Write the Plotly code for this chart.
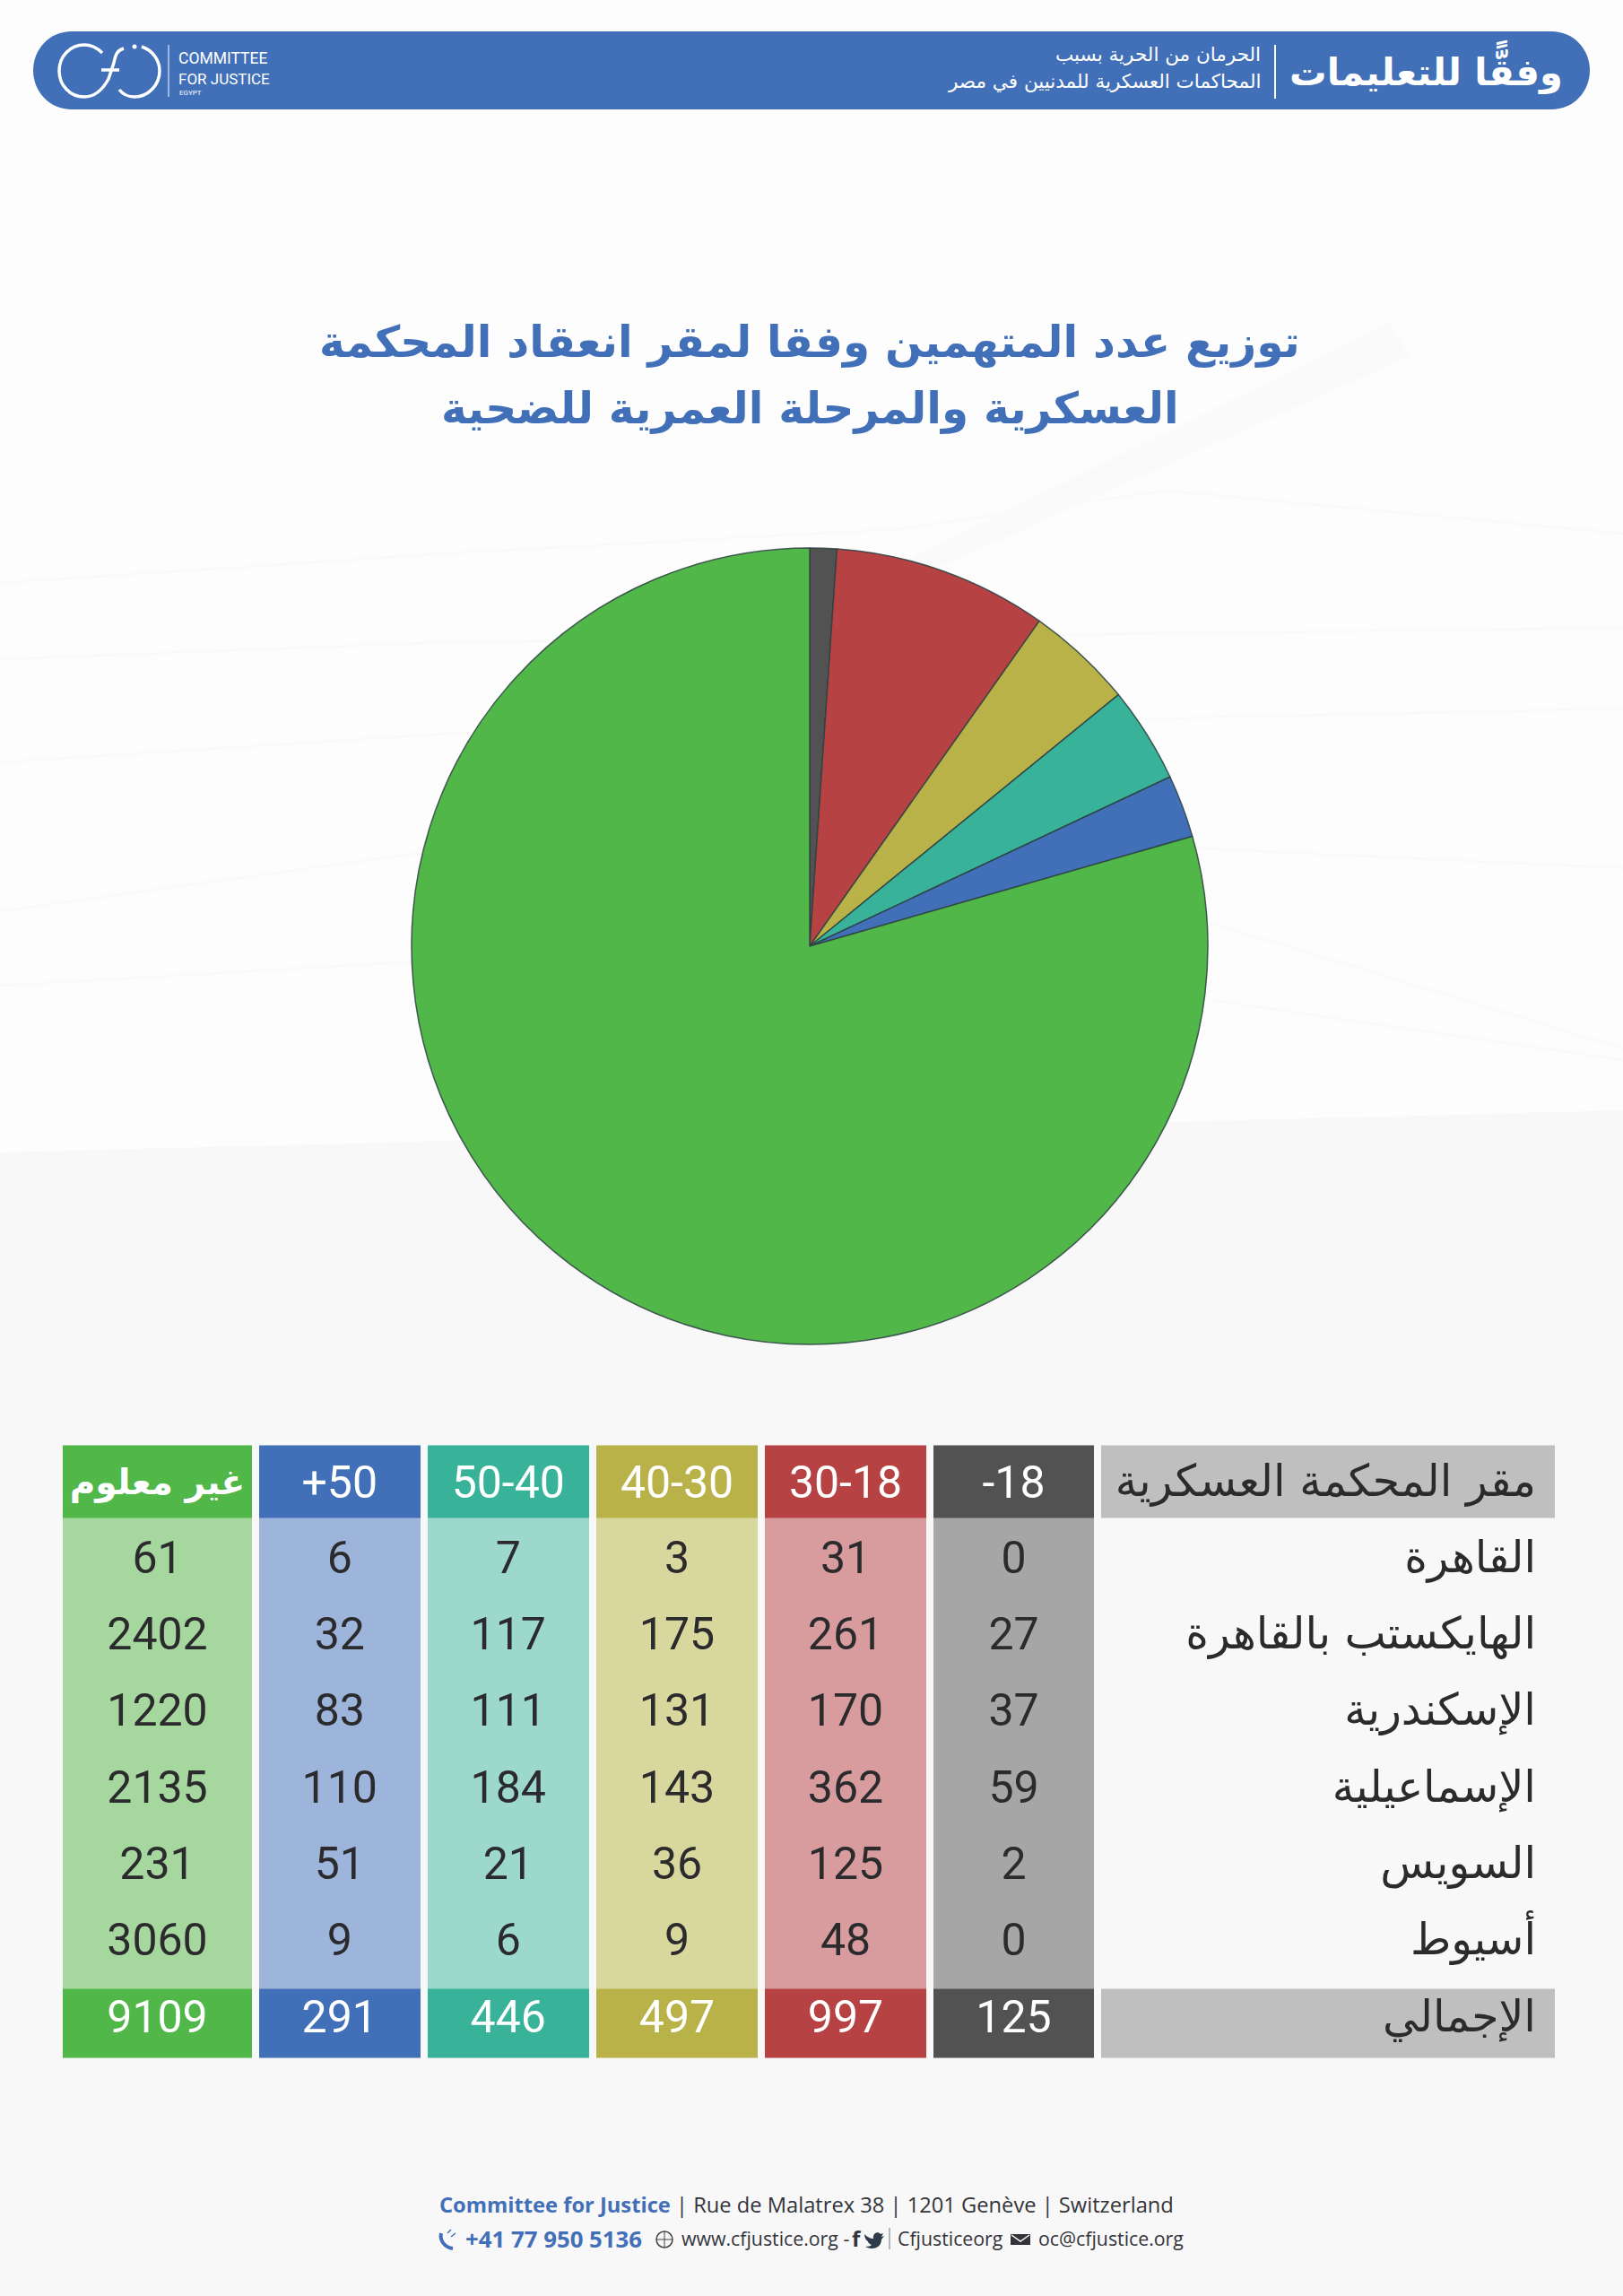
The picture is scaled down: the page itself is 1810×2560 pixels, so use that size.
import numpy as np
import plotly.graph_objects as go

# ---------- data ----------
court_header = "مقر المحكمة العسكرية"
total_label = "الإجمالي"
courts = ["القاهرة", "الهايكستب بالقاهرة", "الإسكندرية", "الإسماعيلية", "السويس", "أسيوط"]
age_groups = ["غير معلوم", "+50", "50-40", "40-30", "30-18", "-18"]  # left to right
unknown = [61, 2402, 1220, 2135, 231, 3060]
over50 = [6, 32, 83, 110, 51, 9]
a40_50 = [7, 117, 111, 184, 21, 6]
a30_40 = [3, 175, 131, 143, 36, 9]
a18_30 = [31, 261, 170, 362, 125, 48]
under18 = [0, 27, 37, 59, 2, 0]
totals = [9109, 291, 446, 497, 997, 125]
pie_order = ["-18", "30-18", "40-30", "50-40", "+50", "غير معلوم"]
pie_values = [125, 997, 497, 446, 291, 9109]
columns = [unknown, over50, a40_50, a30_40, a18_30, under18]

# ---------- style ----------
BLUE = "#4270B8"
strong = ["#50B748", "#4270B8", "#38B39A", "#B8B249", "#B74244", "#525252"]
light = ["#A6D79E", "#9DB4DB", "#9CD9CC", "#D8D79E", "#D99C9E", "#A6A6A6"]
label_grey = "#BFBFBF"
pie_colors = ["#525252", "#B74244", "#B8B249", "#38B39A", "#4270B8", "#50B748"]
W, H = 1810, 2560
x_edges = [66, 285, 472.5, 661, 849, 1037, 1224, 1738]
y_edges = [1611.5, 1692.5, 1780, 1867.4, 1954.8, 2042.2, 2129.6, 2217, 2294]
text_y = [1657, 1741, 1826, 1911, 1997, 2082, 2167, 2253]
label_y = [1656, 1741, 1826, 1911, 1997, 2082, 2167, 2253]
ARABIC = "DejaVu Sans"
DIGITS = "Roboto"
DARK = "#2B2B2E"

palette = strong + light + [label_grey]
n_col = len(palette)
scale = [[i / (n_col - 1), c] for i, c in enumerate(palette)]
z = []
for r in range(8):
    row = []
    for c in range(6):
        row.append(c if r in (0, 7) else c + 6)
    row.append(12 if r in (0, 7) else np.nan)
    z.append(row)

fig = go.Figure()
fig.add_trace(go.Heatmap(x=x_edges, y=y_edges, z=z, colorscale=scale, zmin=0, zmax=n_col - 1,
                         showscale=False, xgap=8, ygap=0, hoverinfo="skip"))

col_mid = [(x_edges[i] + x_edges[i + 1]) / 2 for i in range(6)]

# body numbers
xs, ys, ts = [], [], []
for c, col in enumerate(columns):
    for r, v in enumerate(col):
        xs.append(col_mid[c]); ys.append(text_y[r + 1]); ts.append(str(v))
fig.add_trace(go.Scatter(x=xs, y=ys, text=ts, mode="text", textposition="middle center",
                         textfont=dict(family=DIGITS, size=50, color=DARK), hoverinfo="skip", cliponaxis=False))
# header and totals
fig.add_trace(go.Scatter(x=col_mid[1:], y=[text_y[0]] * 5, text=age_groups[1:], mode="text",
                         textposition="middle center", textfont=dict(family=DIGITS, size=50, color="white"),
                         hoverinfo="skip", cliponaxis=False))
fig.add_trace(go.Scatter(x=col_mid[:1], y=[label_y[0]], text=age_groups[:1], mode="text",
                         textposition="middle center",
                         textfont=dict(family=ARABIC, size=39, color="white", weight="bold"),
                         hoverinfo="skip", cliponaxis=False))
fig.add_trace(go.Scatter(x=col_mid, y=[text_y[7]] * 6, text=[str(t) for t in totals], mode="text",
                         textposition="middle center", textfont=dict(family=DIGITS, size=50, color="white"),
                         hoverinfo="skip", cliponaxis=False))
# row labels
fig.add_trace(go.Scatter(x=[1713] * 8, y=label_y, text=[court_header] + courts + [total_label], mode="text",
                         textposition="middle left", textfont=dict(family=ARABIC, size=49, color=DARK),
                         hoverinfo="skip", cliponaxis=False))

# pie
cx, cy, rad = 903, 1055, 444
fig.add_trace(go.Pie(labels=pie_order, values=pie_values, sort=False, direction="clockwise", rotation=0,
                     textinfo="none", hoverinfo="label+value", showlegend=False,
                     marker=dict(colors=pie_colors, line=dict(color="rgba(45,65,65,0.85)", width=1.5)),
                     domain=dict(x=[(cx - rad) / W, (cx + rad) / W], y=[1 - (cy + rad) / H, 1 - (cy - rad) / H])))

shapes = []
# background band, its upper edge slopes slightly
shapes.append(dict(type="path", xref="x", yref="y", layer="below", line_width=0, fillcolor="#F8F8F9",
                   path="M0,1285 L1810,1238 L1810,2560 L0,2560 Z"))
# faint barbed wire strands and post of the watermark
for path in ["M0,650 L500,617 L1000,590 L1300,547 L1810,595",
             "M0,735 L500,716 L1810,700",
             "M0,850 L500,818 L1810,790",
             "M0,1016 L460,952 L1000,940 L1340,946 L1810,968",
             "M0,1099 L450,1073 L1000,1050",
             "M1350,1029 L1810,1169",
             "M1350,1115 L1810,1182"]:
    shapes.append(dict(type="path", xref="x", yref="y", path=path, layer="below",
                       line=dict(color="#FAFAFA", width=3)))
shapes.append(dict(type="path", xref="x", yref="y", layer="below", line_width=0, fillcolor="#FAFAFA",
                   path="M1550,359 L1572,397 L1000,654 L1000,654 L1020,620 Z"))
# header pill
shapes.append(dict(type="path", xref="x", yref="y", layer="below", fillcolor=BLUE, line_width=0,
                   path="M80,35 L1730,35 C1755,35 1773,55 1773,78.5 C1773,102 1755,122 1730,122 L80,122 "
                        "C55,122 37,102 37,78.5 C37,55 55,35 80,35 Z"))
# header dividers
shapes.append(dict(type="line", xref="x", yref="y", x0=1422, x1=1422, y0=50, y1=110,
                   line=dict(color="white", width=2)))
shapes.append(dict(type="line", xref="x", yref="y", x0=188, x1=188, y0=50, y1=108,
                   line=dict(color="white", width=1)))
# logo
logo = dict(color="white", width=3.5)
shapes.append(dict(type="path", xref="x", yref="y", line=logo,
                   path="M114,59 C108,53 101,50 94,50 C78,50 66,63 66,79 C66,95 78,108 94,108 "
                        "C106,108 115,99 121,88 L127,70 C129,60 131,56 138,54"))
shapes.append(dict(type="path", xref="x", yref="y", line=logo,
                   path="M158,52 C170,56 178,67 178,79 C178,95 165,108 150,108 C143,108 137,105 133,100"))
shapes.append(dict(type="line", xref="x", yref="y", x0=113, x1=133, y0=78, y1=78, line=logo))
shapes.append(dict(type="circle", xref="x", yref="y", x0=147.5, x1=152.5, y0=49.5, y1=54.5,
                   fillcolor="white", line_width=0))
# footer icons
shapes.append(dict(type="path", xref="x", yref="y", line=dict(color=BLUE, width=4),
                   path="M492,2490 C490,2498 496,2506 505,2507"))
shapes.append(dict(type="path", xref="x", yref="y", line=dict(color=BLUE, width=1.5),
                   path="M499,2490 L503,2486 M503,2494 L508,2490"))
shapes.append(dict(type="circle", xref="x", yref="y", x0=732, x1=750, y0=2488, y1=2506,
                   line=dict(color="#444444", width=1.5)))
shapes.append(dict(type="line", xref="x", yref="y", x0=732, x1=750, y0=2497, y1=2497,
                   line=dict(color="#444444", width=1)))
shapes.append(dict(type="line", xref="x", yref="y", x0=741, x1=741, y0=2488, y1=2506,
                   line=dict(color="#444444", width=1)))
shapes.append(dict(type="path", xref="x", yref="y", fillcolor="#2F3B4C", line_width=0,
                   path="M964,2491 C968,2495 971,2496 974,2496 C973,2490 979,2487 982,2491 L985,2490 L983,2494 L986,2493 "
                        "L983,2497 C983,2505 975,2510 965,2505 C969,2505 971,2504 972,2503 C969,2502 968,2500 968,2499 "
                        "C966,2498 964,2495 964,2491 Z"))
shapes.append(dict(type="line", xref="x", yref="y", x0=992, x1=992, y0=2484, y1=2508,
                   line=dict(color="#777777", width=1)))
shapes.append(dict(type="rect", xref="x", yref="y", x0=1127, x1=1149, y0=2491, y1=2503,
                   fillcolor="#33343A", line_width=0))
shapes.append(dict(type="path", xref="x", yref="y", line=dict(color="white", width=1.5),
                   path="M1128,2492 L1138,2499 L1148,2492"))


def note(text, x, y, size, color, family, anchor="center", weight=None):
    font = dict(family=family, size=size, color=color)
    if weight:
        font["weight"] = weight
    return dict(text=text, x=x, y=y, xref="x", yref="y", showarrow=False, xanchor=anchor, yanchor="middle",
                font=font)


W_FONT = "Open Sans"
annotations = [
    note("وفقًّا للتعليمات", 1745, 75, 41.5, "white", ARABIC, "right", "bold"),
    note("الحرمان من الحرية بسبب", 1408, 60, 21.5, "white", ARABIC, "right"),
    note("المحاكمات العسكرية للمدنيين في مصر", 1408, 90, 21.5, "white", ARABIC, "right"),
    note("COMMITTEE", 197, 65, 17.5, "white", "Roboto", "left"),
    note("FOR JUSTICE", 197, 88, 17, "white", "Roboto", "left"),
    note("EGYPT", 198, 103, 8, "white", "Roboto", "left"),
    note("توزيع عدد المتهمين وفقا لمقر انعقاد المحكمة", 903, 381, 48.5, BLUE, ARABIC, "center", "bold"),
    note("العسكرية والمرحلة العمرية للضحية", 903, 455, 48.5, BLUE, ARABIC, "center", "bold"),
    note("<b><span style='color:%s'>Committee for Justice</span></b> | Rue de Malatrex 38 | 1201 Genève | Switzerland" % BLUE,
         488, 2458, 23.7, "#33343A", W_FONT, "left"),
    note("<b>+41 77 950 5136</b>", 517, 2496, 25.8, BLUE, W_FONT, "left"),
    note("www.cfjustice.org -", 758, 2495, 21.3, "#33343A", W_FONT, "left"),
    note("<b>f</b>", 955, 2495, 24, "#33343A", W_FONT, "center"),
    note("Cfjusticeorg", 999, 2495, 21.3, "#33343A", W_FONT, "left"),
    note("oc@cfjustice.org", 1156, 2495, 21.3, "#33343A", W_FONT, "left"),
]

fig.update_layout(
    width=W, height=H, margin=dict(l=0, r=0, t=0, b=0), paper_bgcolor="#FDFDFD", plot_bgcolor="rgba(0,0,0,0)",
    showlegend=False, shapes=shapes, annotations=annotations,
    xaxis=dict(range=[0, W], visible=False, fixedrange=True),
    yaxis=dict(range=[H, 0], visible=False, fixedrange=True),
)
fig.write_html("out.html", config=dict(displayModeBar=False), post_script="document.body.style.margin='0';")
